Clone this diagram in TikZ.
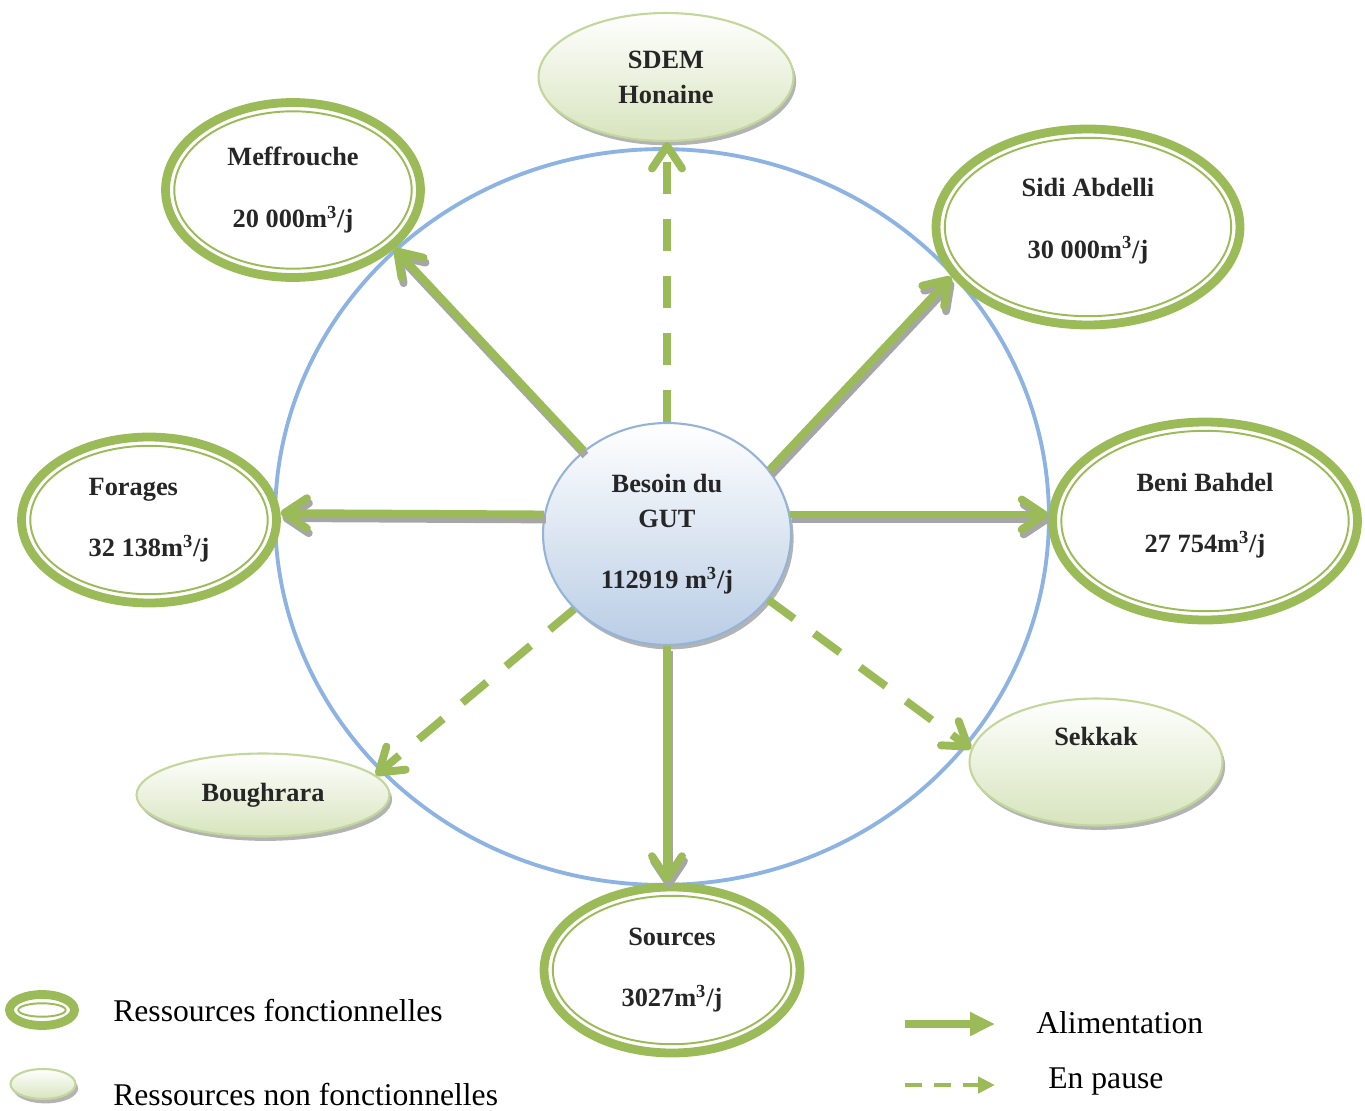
\documentclass[tikz,border=0pt]{standalone}
\usepackage{fontspec}
\setmainfont{Liberation Serif}
\usetikzlibrary{shapes.geometric,arrows.meta,shadows,calc}

\definecolor{vert}{HTML}{9BBB59}
\definecolor{vertclair}{HTML}{D7E4BD}
\definecolor{bordvert}{HTML}{C3D69B}
\definecolor{bleu}{HTML}{8DB3E2}
\definecolor{bleuclair}{HTML}{B9CDE5}
\definecolor{bordbleu}{HTML}{95B3D7}
\definecolor{ombre}{HTML}{A6A6A6}

\tikzset{
  fonct/.style={ellipse, draw=vert, line width=5pt, fill=white, align=center, text=black!85,
    font=\bfseries\fontsize{15}{20}\selectfont,
    path picture={\draw[vert, line width=1.1pt]
      let \p1=($(path picture bounding box.north east)-(path picture bounding box.center)$) in
      (path picture bounding box.center) ellipse [x radius=\x1-5pt, y radius=\y1-5pt];}},
  nonfonct/.style={ellipse, draw=bordvert, line width=1.2pt, top color=white, bottom color=vertclair,
    align=center, text=black!85, font=\bfseries\fontsize{15}{20}\selectfont,
    drop shadow={shadow xshift=1.5pt, shadow yshift=-2.5pt, fill=gray, opacity=0.6}},
  alim/.style={vert, line width=4.5pt, -{Straight Barb[length=0.45cm,width=0.6cm,round]}},
  ombrage/.style={alim, draw=ombre, transform canvas={xshift=1.1pt,yshift=-2.8pt}},
  pause/.style={vert, line width=4.5pt, dash pattern=on 0.64cm off 0.5cm,
    -{Straight Barb[length=0.45cm,width=0.6cm,round]}},
  legende/.style={font=\fontsize{18}{20}\selectfont, anchor=west, inner sep=0pt}
}

\begin{document}
\begin{tikzpicture}[x=0.02cm, y=-0.02cm]
    \useasboundingbox (0,0) rectangle (1365,1111);

    % Blue ring behind the resources
    \draw[bleu, line width=2.2pt] (662,517) ellipse [x radius=7.74cm, y radius=7.36cm];

    % Central need
    \node[ellipse, draw=bordbleu, line width=1.2pt, top color=white, bottom color=bleuclair,
        minimum width=4.96cm, minimum height=4.44cm, align=center, text=black!85,
        font=\bfseries\fontsize{15}{20}\selectfont,
        drop shadow={shadow xshift=1.5pt, shadow yshift=-2.5pt, fill=gray, opacity=0.6}]
        (gut) at (667,534) {Besoin du\\GUT\\[15pt]112919 m\textsuperscript{3}/j};

    % Working resources
    \node[fonct, minimum width=5.1cm, minimum height=3.5cm] (meff) at (293,190)
        {Meffrouche\\[15pt]20 000m\textsuperscript{3}/j};
    \node[fonct, minimum width=6.08cm, minimum height=3.92cm] (sidi) at (1088,227)
        {Sidi Abdelli\\[15pt]30 000m\textsuperscript{3}/j\\[-10pt]\mbox{}};
    \node[fonct, minimum width=5.1cm, minimum height=3.32cm, align=left] (forages) at (149,520)
        {Forages\\[15pt]32 138m\textsuperscript{3}/j};
    \node[fonct, minimum width=6.1cm, minimum height=3.96cm] (beni) at (1205,521)
        {Beni Bahdel\\[15pt]27 754m\textsuperscript{3}/j\\[-11pt]\mbox{}};
    \node[fonct, minimum width=5.12cm, minimum height=3.32cm] (sources) at (672,970)
        {Sources\\[15pt]3027m\textsuperscript{3}/j};

    % Resources not in service
    \node[nonfonct, minimum width=5.1cm, minimum height=2.56cm] (sdem) at (666,77) {SDEM\\Honaine};
    \node[nonfonct, minimum width=5.06cm, minimum height=2.54cm] (sekkak) at (1096,762) {Sekkak\\[9pt]\mbox{}};
    \node[nonfonct, minimum width=5.06cm, minimum height=1.66cm] (bough) at (263,795) {Boughrara};

    % Supply links, shadow first
    \foreach \de/\vers in {gut.135/meff.-30, gut.32/sidi.200, gut.171/forages.3,
                           gut.9/gut.9 -| beni.west, gut.south/gut.south |- sources.north} {
        \draw[ombrage] (\de) -- (\vers);
        \draw[alim] (\de) -- (\vers);
    }
    \draw[pause] (gut.north) -- (gut.north |- sdem.south);
    \draw[pause] (gut.-33) -- (sekkak.174);
    \draw[pause] (gut.219) -- (bough.10);

    % Legend
    \node[fonct, minimum width=1.3cm, minimum height=0.62cm] (symF) at (42,1010) {};
    \node[legende] (txtF) at (113,1011) {Ressources fonctionnelles};
    \node[nonfonct, minimum width=1.3cm, minimum height=0.6cm] (symNF) at (43,1084) {};
    \node[legende] (txtNF) at (113,1095) {Ressources non fonctionnelles};

    \coordinate (alimA) at (905,1024);
    \coordinate (alimB) at (995,1024);
    \coordinate (pauseA) at (905,1085);
    \coordinate (pauseB) at (995,1085);
    \draw[vert, line width=4.5pt, -{Triangle[length=0.5cm,width=0.45cm]}] (alimA) -- (alimB);
    \draw[vert, line width=2.5pt, dash pattern=on 0.34cm off 0.24cm,
        -{Triangle[length=0.34cm,width=0.32cm]}] (pauseA) -- (pauseB);
    \node[legende] (txtAlim) at (1036,1023) {Alimentation};
    \node[legende] (txtPause) at (1048,1082) {En pause};
\end{tikzpicture}
\end{document}
